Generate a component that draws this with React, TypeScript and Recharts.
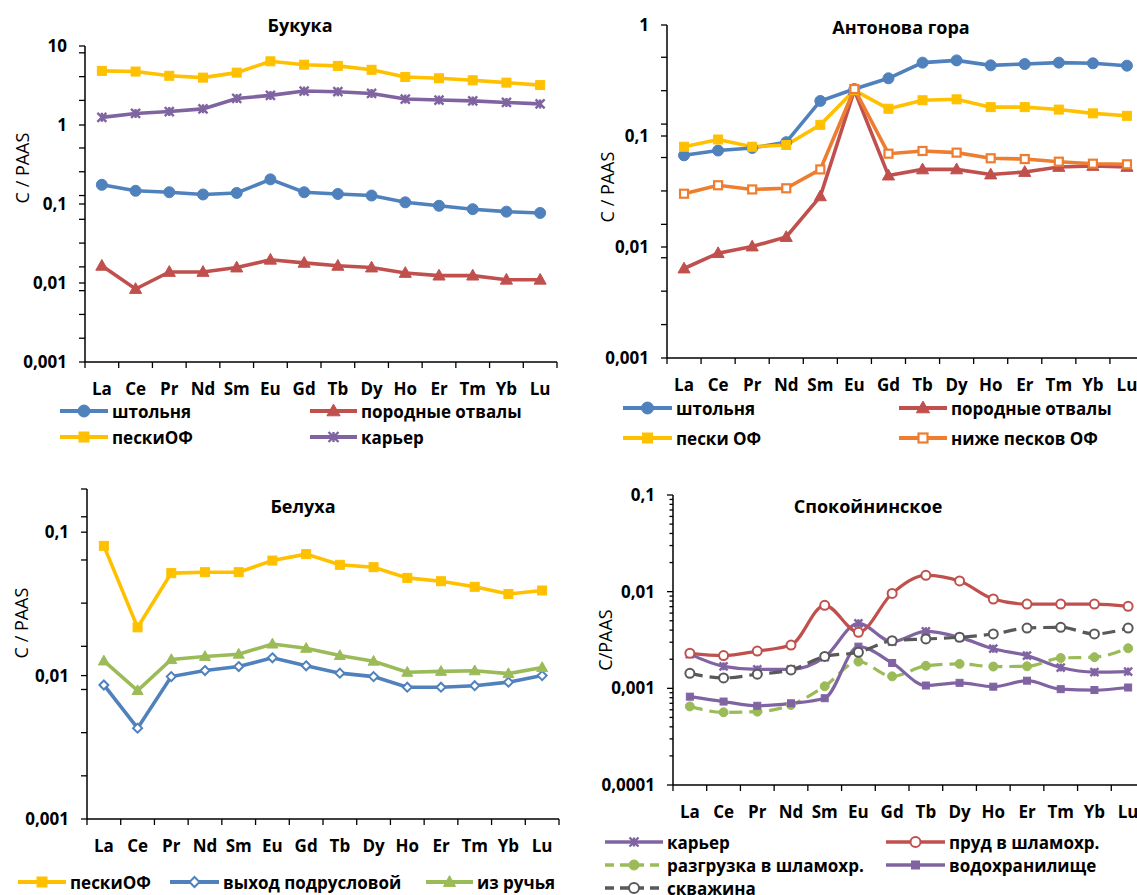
import React from 'react';
import { LineChart, Line, XAxis, YAxis } from 'recharts';

const FONT = "'Open Sans', 'Noto Sans', 'DejaVu Sans', sans-serif";

const elements = ['La', 'Ce', 'Pr', 'Nd', 'Sm', 'Eu', 'Gd', 'Tb', 'Dy', 'Ho', 'Er', 'Tm', 'Yb', 'Lu'];

// Букука
const bukShtolnya = [0.175, 0.147, 0.141, 0.132, 0.138, 0.205, 0.141, 0.134, 0.128, 0.105, 0.095, 0.086, 0.08, 0.077];
const bukOtvaly = [0.0165, 0.0084, 0.0138, 0.0138, 0.0157, 0.0197, 0.018, 0.0165, 0.0157, 0.0134, 0.0124, 0.0124, 0.011, 0.011];
const bukPeski = [4.84, 4.75, 4.2, 3.98, 4.6, 6.4, 5.8, 5.6, 5.0, 4.06, 3.9, 3.68, 3.44, 3.2];
const bukKarier = [1.25, 1.4, 1.48, 1.6, 2.17, 2.37, 2.69, 2.64, 2.51, 2.13, 2.07, 2.02, 1.93, 1.85];

// Антонова гора
const antShtolnya = [0.067, 0.074, 0.078, 0.088, 0.207, 0.265, 0.331, 0.458, 0.48, 0.433, 0.445, 0.458, 0.452, 0.43];
const antOtvaly = [0.0064, 0.0088, 0.0101, 0.0123, 0.0286, 0.258, 0.044, 0.05, 0.05, 0.045, 0.0474, 0.0526, 0.0537, 0.0526];
const antPeski = [0.08, 0.093, 0.08, 0.083, 0.126, 0.258, 0.176, 0.21, 0.214, 0.182, 0.182, 0.173, 0.16, 0.152];
const antNizhe = [0.0302, 0.036, 0.033, 0.0338, 0.05, 0.265, 0.0693, 0.0733, 0.0708, 0.063, 0.062, 0.0587, 0.0563, 0.0556];

// Белуха
const belPeski = [0.0803, 0.0217, 0.0518, 0.0526, 0.0526, 0.0634, 0.0703, 0.0592, 0.057, 0.048, 0.0455, 0.0416, 0.0371, 0.0392];
const belVykhod = [0.0086, 0.0043, 0.00984, 0.01084, 0.01156, 0.0133, 0.0117, 0.0104, 0.00984, 0.0083, 0.0083, 0.0085, 0.009, 0.01];
const belRuchei = [0.01265, 0.00786, 0.01294, 0.0136, 0.0141, 0.0166, 0.0155, 0.0138, 0.0126, 0.01055, 0.0107, 0.0108, 0.01033, 0.01138];

// Спокойнинское
const spKarier = [0.00226, 0.00169, 0.00157, 0.00157, 0.0021, 0.0047, 0.00304, 0.00389, 0.00337, 0.00257, 0.00218, 0.00164, 0.00147, 0.00149];
const spPrud = [0.0023, 0.00218, 0.00243, 0.0028, 0.00722, 0.0038, 0.0096, 0.01476, 0.0129, 0.0084, 0.00745, 0.00745, 0.00745, 0.00705];
const spRazgruzka = [0.00065, 0.000565, 0.000574, 0.000673, 0.00105, 0.00189, 0.00133, 0.00171, 0.00179, 0.00168, 0.00169, 0.00206, 0.0021, 0.0026];
const spVodokhr = [0.00082, 0.00073, 0.00066, 0.0007, 0.00079, 0.0027, 0.00183, 0.00107, 0.00114, 0.00104, 0.0012, 0.00098, 0.00096, 0.00102];
const spSkvazhina = [0.00143, 0.00128, 0.0014, 0.00155, 0.00214, 0.00236, 0.00311, 0.00324, 0.00337, 0.00365, 0.0042, 0.00428, 0.00365, 0.0042];

// axis ticks
const bukMajor = [0.001, 0.01, 0.1, 1, 10];
const bukMinor = [0.002, 0.004, 0.008, 0.016, 0.032, 0.064, 0.128, 0.256, 0.512, 2.048, 4.096, 8.192];
const antMajor = [0.001, 0.01, 0.1, 1];
const antMinor = [0.002, 0.004, 0.008, 0.016, 0.032, 0.064, 0.128, 0.256, 0.512];
const belMajor = [0.001, 0.01, 0.1];
const belMinor = [0.002, 0.004, 0.008, 0.016, 0.032, 0.064, 0.128, 0.2];
const spMajor = [0.0001, 0.001, 0.01, 0.1];
const spMinor = [
  0.0002, 0.0003, 0.0004, 0.0005, 0.0006, 0.0007, 0.0008, 0.0009,
  0.002, 0.003, 0.004, 0.005, 0.006, 0.007, 0.008, 0.009,
  0.02, 0.03, 0.04, 0.05, 0.06, 0.07, 0.08, 0.09,
];

const BLUE = '#4F81BD';
const RED = '#C0504D';
const YELLOW = '#FFC000';
const PURPLE = '#8064A2';
const ORANGE = '#EE7D30';
const GREEN = '#9BBB59';
const GREY = '#595959';

type Kind = 'circle' | 'ocircle' | 'square' | 'osquare' | 'triangle' | 'odiamond' | 'star';

interface Series {
  name: string;
  values: number[];
  color: string;
  kind: Kind;
  size: number;
  width: number;
  dash?: string;
}

interface LegendPos {
  s: number;
  x: number;
  y: number;
  len: number;
}

interface Panel {
  title: string;
  titleX: number;
  titleY: number;
  yLabel: string;
  yLabelX: number;
  yLabelY: number;
  left: number;
  top: number;
  width: number;
  height: number;
  margin: { top: number; right: number; bottom: number; left: number };
  domain: [number, number];
  majors: number[];
  minors: number[];
  minorLen: number;
  curve: 'linear' | 'monotone';
  series: Series[];
  legend: LegendPos[];
}

function Marker({ kind, cx, cy, color, size }: { kind: Kind; cx: number; cy: number; color: string; size: number }) {
  const r = size / 2;
  switch (kind) {
    case 'circle':
      return <circle cx={cx} cy={cy} r={r} fill={color} stroke={color} strokeWidth={1} />;
    case 'ocircle':
      return <circle cx={cx} cy={cy} r={r} fill="#fff" stroke={color} strokeWidth={2} />;
    case 'square':
      return <rect x={cx - r} y={cy - r} width={size} height={size} fill={color} stroke={color} strokeWidth={1} />;
    case 'osquare':
      return <rect x={cx - r} y={cy - r} width={size} height={size} fill="#fff" stroke={color} strokeWidth={2.2} />;
    case 'triangle':
      return (
        <path
          d={`M${cx},${cy - r * 1.15} L${cx + r * 1.1},${cy + r * 0.8} L${cx - r * 1.1},${cy + r * 0.8} Z`}
          fill={color}
          stroke={color}
          strokeWidth={1}
        />
      );
    case 'odiamond':
      return (
        <path
          d={`M${cx},${cy - r} L${cx + r},${cy} L${cx},${cy + r} L${cx - r},${cy} Z`}
          fill="#fff"
          stroke={color}
          strokeWidth={2}
        />
      );
    case 'star':
      return (
        <path
          d={`M${cx - r},${cy - r} L${cx + r},${cy + r} M${cx - r},${cy + r} L${cx + r},${cy - r} M${cx},${cy - r} L${cx},${cy + r}`}
          fill="none"
          stroke={color}
          strokeWidth={2.4}
        />
      );
  }
  return null;
}

const fmt = (v: number) => String(v).replace('.', ',');

function YTick(props: any) {
  const { x, y, payload, majors, minorLen } = props;
  const v = payload.value as number;
  const major = majors.some((m: number) => Math.abs(m - v) / m < 1e-6);
  return (
    <g>
      <line x1={x - (major ? 6 : minorLen)} x2={x} y1={y} y2={y} stroke="#000" strokeWidth={1.3} />
      {major && (
        <text x={x - 18} y={y} dy="0.36em" textAnchor="end" fontFamily={FONT} fontWeight={700} fontSize={17} fill="#000">
          {fmt(v)}
        </text>
      )}
    </g>
  );
}

function XTick(props: any) {
  const { x, y, payload, index, band } = props;
  return (
    <g>
      <line x1={x - band / 2} x2={x - band / 2} y1={y} y2={y + 6} stroke="#000" strokeWidth={1.3} />
      {index === elements.length - 1 && (
        <line x1={x + band / 2} x2={x + band / 2} y1={y} y2={y + 6} stroke="#000" strokeWidth={1.3} />
      )}
      <text x={x} y={y + 27} dy="0.36em" textAnchor="middle" fontFamily={FONT} fontWeight={700} fontSize={17} fill="#000">
        {payload.value}
      </text>
    </g>
  );
}

const Y_W = 60;
const X_H = 40;

const panels: Panel[] = [
  {
    title: 'Букука',
    titleX: 300,
    titleY: 25,
    yLabel: 'C / PAAS',
    yLabelX: 22,
    yLabelY: 168,
    left: 0,
    top: 0,
    width: 570,
    height: 450,
    margin: { top: 46, right: 13, bottom: 48, left: 25 },
    domain: [0.001, 10],
    majors: bukMajor,
    minors: bukMinor,
    minorLen: 6,
    curve: 'linear',
    series: [
      { name: 'штольня', values: bukShtolnya, color: BLUE, kind: 'circle', size: 11, width: 3.6 },
      { name: 'породные отвалы', values: bukOtvaly, color: RED, kind: 'triangle', size: 11, width: 3.6 },
      { name: 'пескиОФ', values: bukPeski, color: YELLOW, kind: 'square', size: 9, width: 3.6 },
      { name: 'карьер', values: bukKarier, color: PURPLE, kind: 'star', size: 9, width: 3.6 },
    ],
    legend: [
      { s: 0, x: 60, y: 411, len: 48 },
      { s: 1, x: 310, y: 411, len: 47 },
      { s: 2, x: 60, y: 437, len: 48 },
      { s: 3, x: 310, y: 437, len: 47 },
    ],
  },
  {
    title: 'Антонова гора',
    titleX: 901,
    titleY: 27,
    yLabel: 'C / PAAS',
    yLabelX: 607,
    yLabelY: 187,
    left: 570,
    top: 0,
    width: 580,
    height: 450,
    margin: { top: 25, right: 6, bottom: 52, left: 37 },
    domain: [0.001, 1],
    majors: antMajor,
    minors: antMinor,
    minorLen: 6,
    curve: 'linear',
    series: [
      { name: 'штольня', values: antShtolnya, color: BLUE, kind: 'circle', size: 11, width: 3.6 },
      { name: 'породные отвалы', values: antOtvaly, color: RED, kind: 'triangle', size: 11, width: 3.6 },
      { name: 'пески ОФ', values: antPeski, color: YELLOW, kind: 'square', size: 9, width: 3.6 },
      { name: 'ниже песков ОФ', values: antNizhe, color: ORANGE, kind: 'osquare', size: 8, width: 3.6 },
    ],
    legend: [
      { s: 0, x: 623, y: 408, len: 49 },
      { s: 1, x: 899, y: 408, len: 48 },
      { s: 2, x: 623, y: 438, len: 49 },
      { s: 3, x: 899, y: 438, len: 48 },
    ],
  },
  {
    title: 'Белуха',
    titleX: 303,
    titleY: 506,
    yLabel: 'C / PAAS',
    yLabelX: 21,
    yLabelY: 623,
    left: 0,
    top: 440,
    width: 570,
    height: 455,
    margin: { top: 49, right: 11, bottom: 36, left: 27 },
    domain: [0.001, 0.2],
    majors: belMajor,
    minors: belMinor,
    minorLen: 6,
    curve: 'linear',
    series: [
      { name: 'пескиОФ', values: belPeski, color: YELLOW, kind: 'square', size: 9, width: 3.6 },
      { name: 'выход подрусловой', values: belVykhod, color: BLUE, kind: 'odiamond', size: 9, width: 3.6 },
      { name: 'из ручья', values: belRuchei, color: GREEN, kind: 'triangle', size: 10, width: 3.6 },
    ],
    legend: [
      { s: 0, x: 18, y: 882, len: 48 },
      { s: 1, x: 170, y: 882, len: 49 },
      { s: 2, x: 426, y: 882, len: 47 },
    ],
  },
  {
    title: 'Спокойнинское',
    titleX: 868,
    titleY: 506,
    yLabel: 'C/PAAS',
    yLabelX: 605,
    yLabelY: 640,
    left: 570,
    top: 440,
    width: 580,
    height: 455,
    margin: { top: 55, right: 5, bottom: 70, left: 43 },
    domain: [0.0001, 0.1],
    majors: spMajor,
    minors: spMinor,
    minorLen: 3.5,
    curve: 'monotone',
    series: [
      { name: 'карьер', values: spKarier, color: PURPLE, kind: 'star', size: 8, width: 3.2 },
      { name: 'пруд в шламохр.', values: spPrud, color: RED, kind: 'ocircle', size: 9, width: 3.2 },
      { name: 'разгрузка в шламохр.', values: spRazgruzka, color: GREEN, kind: 'circle', size: 9, width: 3.2, dash: '13 7' },
      { name: 'водохранилище', values: spVodokhr, color: PURPLE, kind: 'square', size: 7, width: 3.2 },
      { name: 'скважина', values: spSkvazhina, color: GREY, kind: 'ocircle', size: 9, width: 3.2, dash: '13 7' },
    ],
    legend: [
      { s: 0, x: 605, y: 842, len: 58 },
      { s: 1, x: 886, y: 842, len: 59 },
      { s: 2, x: 605, y: 865, len: 58 },
      { s: 3, x: 886, y: 865, len: 59 },
      { s: 4, x: 605, y: 888, len: 58 },
    ],
  },
];

function PanelChart({ p }: { p: Panel }) {
  const data = elements.map((el, i) => {
    const row: Record<string, number | string> = { el };
    p.series.forEach((s, k) => {
      row['s' + k] = s.values[i];
    });
    return row;
  });
  const plotW = p.width - p.margin.left - p.margin.right - Y_W;
  const band = plotW / elements.length;
  const ticks = [...p.majors, ...p.minors].sort((a, b) => a - b);
  return (
    <div style={{ position: 'absolute', left: p.left, top: p.top, width: p.width, height: p.height }}>
      <LineChart width={p.width} height={p.height} data={data} margin={p.margin}>
        <XAxis
          dataKey="el"
          interval={0}
          height={X_H}
          padding={{ left: band / 2, right: band / 2 }}
          tickSize={0}
          tickMargin={0}
          tickLine={false}
          axisLine={{ stroke: '#000', strokeWidth: 1.5 }}
          tick={(tp: any) => <XTick {...tp} band={band} />}
        />
        <YAxis
          type="number"
          scale="log"
          domain={p.domain}
          allowDataOverflow
          ticks={ticks}
          interval={0}
          width={Y_W}
          tickSize={0}
          tickMargin={0}
          tickLine={false}
          axisLine={{ stroke: '#000', strokeWidth: 1.5 }}
          tick={(tp: any) => <YTick {...tp} majors={p.majors} minorLen={p.minorLen} />}
        />
        {p.series.map((s, k) => (
          <Line
            key={s.name}
            dataKey={'s' + k}
            type={p.curve}
            stroke={s.color}
            strokeWidth={s.width}
            strokeDasharray={s.dash}
            isAnimationActive={false}
            activeDot={false}
            dot={(dp: any) => (
              <Marker key={`${s.name}-${dp.index}`} kind={s.kind} cx={dp.cx} cy={dp.cy} color={s.color} size={s.size} />
            )}
          />
        ))}
      </LineChart>
    </div>
  );
}

function PanelTexts({ p }: { p: Panel }) {
  return (
    <>
      <div
        style={{
          position: 'absolute',
          left: p.titleX,
          top: p.titleY,
          transform: 'translate(-50%, -50%)',
          fontFamily: FONT,
          fontWeight: 700,
          fontSize: 18,
          whiteSpace: 'nowrap',
          color: '#000',
        }}
      >
        {p.title}
      </div>
      <div
        style={{
          position: 'absolute',
          left: p.yLabelX,
          top: p.yLabelY,
          transform: 'translate(-50%, -50%) rotate(-90deg)',
          fontFamily: FONT,
          fontWeight: 400,
          fontSize: 18,
          whiteSpace: 'nowrap',
          color: '#000',
        }}
      >
        {p.yLabel}
      </div>
      {p.legend.map((l) => {
        const s = p.series[l.s];
        return (
          <div
            key={s.name}
            style={{ position: 'absolute', left: l.x, top: l.y - 13, height: 26, display: 'flex', alignItems: 'center', whiteSpace: 'nowrap' }}
          >
            <svg width={l.len} height={26} style={{ display: 'block' }}>
              <line x1={0} x2={l.len} y1={13} y2={13} stroke={s.color} strokeWidth={s.width + 0.4} strokeDasharray={s.dash ? '9 6' : undefined} />
              <Marker kind={s.kind} cx={l.len / 2} cy={13} color={s.color} size={s.size + 1} />
            </svg>
            <span style={{ marginLeft: 4, fontFamily: FONT, fontWeight: 700, fontSize: 17, color: '#000' }}>{s.name}</span>
          </div>
        );
      })}
    </>
  );
}

export default function App() {
  return (
    <div
      style={{
        position: 'absolute',
        left: 0,
        top: 0,
        width: 1137,
        height: 895,
        overflow: 'hidden',
        background: '#fff',
      }}
    >
      {panels.map((p) => (
        <PanelChart key={p.title} p={p} />
      ))}
      {panels.map((p) => (
        <PanelTexts key={p.title + '-t'} p={p} />
      ))}
    </div>
  );
}
